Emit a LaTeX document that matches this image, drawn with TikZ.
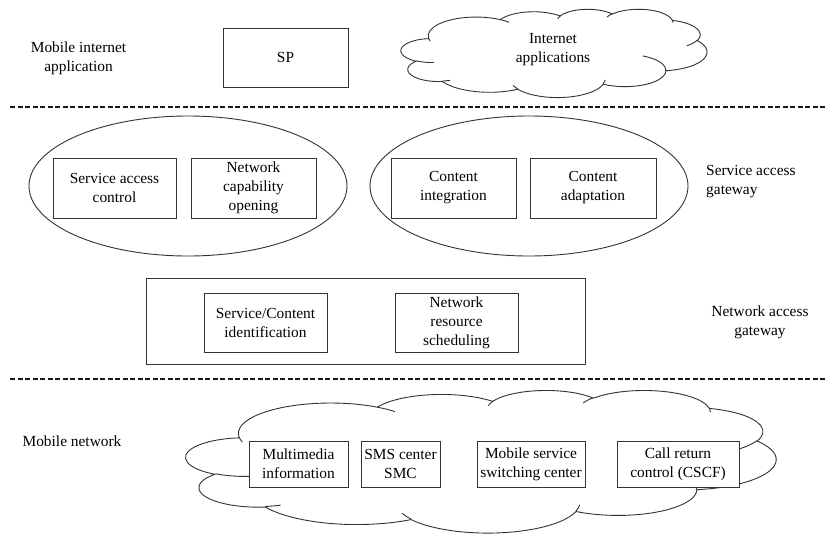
\documentclass[tikz,border=0pt]{standalone}
\usepackage{fontspec}
\setmainfont{Liberation Serif}
\usetikzlibrary{shapes.geometric}
\newcommand{\lblfont}{\fontsize{15.4}{19}\selectfont}
\tikzset{
  declare function={
    va(\t,\a,\b)=atan2(\a*sin(\t),\b*cos(\t));
    vdraw(\s,\w,\a,\b)=va(\s+\w,\a,\b)-va(\s,\a,\b);
    vd(\s,\w,\a,\b)=vdraw(\s,\w,\a,\b)+360*round((\w-vdraw(\s,\w,\a,\b))/360);
  },
  ln/.style={draw=black!80, line width=0.9pt},
  box/.style={ln, fill=white, rectangle, minimum height=60, inner sep=1pt, align=center, font=\lblfont},
  ovalgrp/.style={ln, ellipse, inner sep=0pt},
  lbl/.style={align=center, font=\lblfont, inner sep=0pt},
  sep/.style={line width=1.5pt, draw=black!90, dash pattern=on 5pt off 2.5pt},
}
\newcommand{\wordcloud}[4]{%
\begin{scope}[shift={(#1,#2)}, x=#3pt, y=-#4pt]
\draw[ln, fill=white] (39,143.7)
 arc[start angle={va(-190.4875,67.53,91.90)}, delta angle={vd(-190.4875,123.7805,67.53,91.90)}, x radius=67.53, y radius=91.90]
 arc[start angle={va(-144.1024,53.33,72.67)}, delta angle={vd(-144.1024,89.9452,53.33,72.67)}, x radius=53.33, y radius=72.67]
 arc[start angle={va(-145.8079,43.65,59.45)}, delta angle={vd(-145.8079,99.7230,43.65,59.45)}, x radius=43.65, y radius=59.45]
 arc[start angle={va(-130.9861,48.57,65.95)}, delta angle={vd(-130.9861,117.2417,48.57,65.95)}, x radius=48.57, y radius=65.95]
 arc[start angle={va(-78.7089,53.33,72.73)}, delta angle={vd(-78.7089,109.0269,53.33,72.73)}, x radius=53.33, y radius=72.73]
 arc[start angle={va(-46.2673,67.75,92.20)}, delta angle={vd(-46.2673,130.2690,67.75,92.20)}, x radius=67.75, y radius=92.20]
 arc[start angle={va(0.6250,57.85,78.67)}, delta angle={vd(0.6250,114.0333,57.85,78.67)}, x radius=57.85, y radius=78.67]
 arc[start angle={va(22.4516,67.52,92.15)}, delta angle={vd(22.4516,115.1726,67.52,92.15)}, x radius=67.52, y radius=92.15]
 arc[start angle={va(66.2426,77.20,105.43)}, delta angle={vd(66.2426,75.7110,77.20,105.43)}, x radius=77.20, y radius=105.43]
 arc[start angle={va(-274.9421,43.60,59.18)}, delta angle={vd(-274.9421,146.7356,43.60,59.18)}, x radius=43.60, y radius=59.18]
 arc[start angle={va(-246.8285,43.45,59.45)}, delta angle={vd(-246.8285,152.5189,43.45,59.45)}, x radius=43.45, y radius=59.45]
 -- cycle;
\draw[ln]
 (46.93,261.77) arc[start angle={va(86.742,43.45,59.45)}, delta angle={vd(86.742,26.4295,43.45,59.45)}, x radius=43.45, y radius=59.45]
 (69.28,348.99) arc[start angle={va(73.6105,43.60,59.18)}, delta angle={vd(73.6105,11.4475,43.60,59.18)}, x radius=43.60, y radius=59.18]
 (164.78,390.90) arc[start angle={va(137.6242,67.52,92.15)}, delta angle={vd(137.6242,14.0811,67.52,92.15)}, x radius=67.52, y radius=92.15]
 (288.27,347.51) arc[start angle={va(6.4533,67.52,92.15)}, delta angle={vd(6.4533,15.9984,67.52,92.15)}, x radius=67.52, y radius=92.15]
 (341.29,229.54) arc[start angle={va(-70.2924,57.85,78.67)}, delta angle={vd(-70.2924,70.9174,57.85,78.67)}, x radius=57.85, y radius=78.67]
 (417.98,153.54) arc[start angle={va(30.3180,53.33,72.73)}, delta angle={vd(30.3180,27.7515,53.33,72.73)}, x radius=53.33, y radius=72.73]
 (383.24,54.26) arc[start angle={va(-13.7443,48.57,65.95)}, delta angle={vd(-13.7443,14.8589,48.57,65.95)}, x radius=48.57, y radius=65.95]
 (290.78,39.52) arc[start angle={va(-149.1815,48.57,65.95)}, delta angle={vd(-149.1815,18.1954,48.57,65.95)}, x radius=48.57, y radius=65.95]
 (221.41,47.20) arc[start angle={va(-163.4943,43.65,59.45)}, delta angle={vd(-163.4943,17.6864,43.65,59.45)}, x radius=43.65, y radius=59.45]
 (140.00,51.92) arc[start angle={va(-66.7070,67.53,91.90)}, delta angle={vd(-66.7070,12.3194,67.53,91.90)}, x radius=67.53, y radius=91.90]
 (41.27,157.89) arc[start angle={va(157.6544,67.53,91.90)}, delta angle={vd(157.6544,11.8582,67.53,91.90)}, x radius=67.53, y radius=91.90];
\end{scope}}
\begin{document}
\begin{tikzpicture}[x=1pt, y=-1pt]
\useasboundingbox[fill=white] (0,0) rectangle (826,538);
% top row
\node[lbl] (mia) at (78.5,58.5) {Mobile internet\\application};
\node[box, minimum width=125, minimum height=59] (sp) at (285.5,57.5) {SP};
\wordcloud{401}{9}{0.7083}{0.2043}
\node[lbl] (inet) at (553,50) {Internet\\applications};
% separator 1
\coordinate (s1a) at (10,107);
\coordinate (s1b) at (826,107);
\draw[sep] (s1a) -- (s1b);
% service access gateway
\node[ovalgrp, minimum width=318, minimum height=140] (ell1) at (188,186) {};
\node[ovalgrp, minimum width=318, minimum height=140] (ell2) at (529,186) {};
\node[box, minimum width=123] (sac) at (114.5,188) {Service access\\control};
\node[box, minimum width=125] (nco) at (253.5,188) {Network\\capability\\opening};
\node[box, minimum width=125] (ci) at (453.5,188) {Content\\integration};
\node[box, minimum width=126] (ca) at (593,188) {Content\\adaptation};
\node[lbl, anchor=west, align=left] (sag) at (706,181.5) {Service access\\gateway};
% network access gateway
\node[box, minimum width=439, minimum height=86] (nag) at (365.5,321) {};
\node[box, minimum width=123, minimum height=59] (sci) at (265.5,322.5) {Service/Content\\identification};
\node[box, minimum width=123, minimum height=59] (nrs) at (456.5,322.5) {Network\\resource\\scheduling};
\node[lbl] (nagl) at (760,322.8) {Network access\\gateway};
% separator 2
\coordinate (s2a) at (10,379);
\coordinate (s2b) at (826,379);
\draw[sep] (s2a) -- (s2b);
% mobile network
\node[lbl] (mn) at (72,441) {Mobile network};
\wordcloud{186}{390}{1.3657}{0.3300}
\node[box, minimum width=99, minimum height=46] (mm) at (298.5,464) {Multimedia\\information};
\node[box, minimum width=79, minimum height=46] (sms) at (400.5,464) {SMS center\\SMC};
\node[box, minimum width=108, minimum height=46] (msc) at (531,464) {Mobile service\\switching center};
\node[box, minimum width=122, minimum height=46] (crc) at (678,464) {Call return\\control (CSCF)};
\end{tikzpicture}
\end{document}
